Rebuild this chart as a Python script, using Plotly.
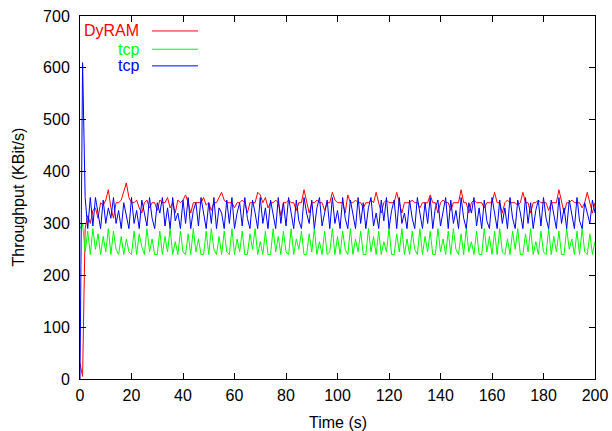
import plotly.graph_objects as go

time_s = list(range(0, 201))

dyram = [
    30, 5, 290, 315, 300, 325, 330, 310, 340, 335, 345, 365, 330, 310, 340, 340, 345, 360, 378, 350,
    340, 340, 345, 330, 320, 340, 345, 330, 340, 340, 325, 345, 340, 340, 350, 330, 340, 320, 345, 340,
    345, 355, 340, 320, 340, 340, 340, 340, 350, 335, 340, 325, 340, 340, 350, 360, 345, 340, 340, 340,
    330, 340, 340, 345, 340, 320, 340, 340, 340, 360, 355, 340, 350, 330, 340, 340, 345, 340, 315, 340,
    340, 345, 340, 340, 325, 340, 340, 365, 340, 320, 340, 340, 345, 340, 340, 325, 340, 340, 360, 345,
    340, 340, 340, 320, 355, 340, 340, 345, 340, 340, 330, 340, 340, 345, 340, 360, 340, 320, 340, 345,
    340, 340, 340, 360, 340, 320, 340, 340, 340, 345, 340, 340, 330, 340, 340, 340, 355, 340, 340, 320,
    340, 345, 340, 340, 325, 340, 340, 340, 365, 340, 340, 320, 340, 345, 340, 340, 340, 330, 340, 340,
    340, 360, 340, 340, 320, 340, 345, 340, 340, 340, 335, 340, 360, 340, 340, 320, 340, 340, 345, 340,
    340, 340, 325, 340, 340, 340, 365, 340, 320, 340, 340, 345, 340, 340, 340, 330, 340, 360, 340, 320,
    340,
]

tcp_green = [
    290, 300, 245, 285, 240, 290, 250, 280, 240, 275, 245, 290, 240, 285, 250, 240, 275, 240, 270, 245,
    240, 285, 240, 280, 255, 240, 290, 245, 270, 240, 240, 285, 240, 275, 245, 290, 240, 265, 240, 285,
    245, 240, 280, 240, 290, 245, 270, 240, 240, 285, 240, 290, 250, 240, 275, 240, 285, 245, 240, 290,
    240, 270, 245, 285, 240, 240, 280, 250, 290, 240, 265, 240, 285, 240, 240, 290, 245, 275, 240, 285,
    245, 240, 290, 240, 270, 250, 285, 240, 240, 280, 245, 290, 240, 265, 240, 285, 240, 245, 290, 240,
    275, 240, 285, 250, 240, 290, 240, 270, 245, 285, 240, 240, 290, 245, 275, 240, 285, 240, 265, 245,
    290, 240, 240, 280, 245, 290, 240, 270, 240, 285, 250, 240, 290, 240, 275, 245, 285, 240, 240, 290,
    245, 270, 240, 285, 240, 290, 250, 240, 280, 240, 290, 245, 265, 240, 285, 240, 240, 290, 245, 275,
    240, 285, 240, 290, 245, 240, 270, 240, 285, 250, 290, 240, 240, 280, 245, 290, 240, 265, 240, 285,
    245, 240, 290, 240, 275, 245, 285, 240, 240, 290, 250, 270, 240, 285, 240, 290, 245, 240, 280, 240,
    265,
]

tcp_blue = [
    0, 610, 350, 290, 350, 295, 350, 320, 290, 345, 300, 330, 310, 350, 300, 325, 290, 340, 315, 290,
    350, 300, 325, 290, 345, 320, 295, 350, 310, 290, 340, 320, 350, 295, 330, 290, 350, 305, 320, 290,
    345, 300, 350, 290, 325, 340, 295, 350, 320, 290, 340, 300, 350, 290, 330, 320, 290, 345, 300, 350,
    290, 320, 340, 295, 350, 310, 290, 345, 320, 290, 350, 300, 330, 290, 345, 320, 290, 350, 300, 340,
    295, 350, 320, 290, 345, 305, 290, 350, 320, 300, 345, 290, 330, 350, 295, 320, 345, 290, 350, 300,
    325, 290, 350, 310, 290, 345, 320, 290, 350, 300, 340, 290, 330, 350, 295, 320, 290, 345, 305, 350,
    290, 325, 345, 290, 350, 300, 320, 290, 345, 310, 290, 350, 320, 290, 340, 300, 350, 290, 330, 345,
    295, 320, 350, 290, 345, 300, 325, 290, 350, 310, 290, 340, 320, 350, 295, 330, 290, 345, 305, 290,
    350, 320, 290, 345, 300, 330, 290, 350, 310, 290, 345, 320, 290, 350, 300, 340, 290, 325, 345, 295,
    350, 310, 290, 345, 320, 290, 350, 300, 330, 290, 345, 320, 290, 350, 305, 290, 340, 320, 300, 345,
    320,
]

series_names = ["DyRAM", "tcp", "tcp"]
series_colors = ["#ff0000", "#00ff00", "#0000ff"]
x_ticks = [0, 20, 40, 60, 80, 100, 120, 140, 160, 180, 200]
y_ticks = [0, 100, 200, 300, 400, 500, 600, 700]

FONT = "Liberation Sans, Arial, sans-serif"

fig = go.Figure()
for name, ys, col in zip(series_names, [dyram, tcp_green, tcp_blue], series_colors):
    fig.add_trace(go.Scatter(x=time_s, y=ys, mode="lines", name=name,
                             line=dict(color=col, width=1), showlegend=False))

axis_common = dict(
    showgrid=False, zeroline=False, showline=True, linecolor="black", linewidth=1,
    mirror="allticks", ticks="inside", ticklen=6, tickcolor="black", tickwidth=1,
    tickfont=dict(family=FONT, size=16, color="black"), automargin=False,
)
fig.update_xaxes(range=[0, 200], tickvals=x_ticks, ticklabelstandoff=2, **axis_common)
fig.update_yaxes(range=[0, 700], tickvals=y_ticks, ticklabelstandoff=6, **axis_common)

annotations = [
    dict(text="Throughput (KBit/s)", xref="paper", yref="paper", x=(18 - 80) / 515, y=0.5,
         textangle=-90, showarrow=False, xanchor="center", yanchor="middle",
         font=dict(family=FONT, size=16, color="black")),
    dict(text="Time (s)", xref="paper", yref="paper", x=0.5, y=0, yshift=-43,
         showarrow=False, xanchor="center", yanchor="middle",
         font=dict(family=FONT, size=16, color="black")),
]
shapes = []
legend_y_px = [30.7, 49, 65.7]
for name, col, ypx in zip(series_names, series_colors, legend_y_px):
    yp = (379.5 - ypx) / 363.8
    annotations.append(dict(text=name, xref="paper", yref="paper", x=(141 - 80) / 515, y=yp,
                            showarrow=False, xanchor="right", yanchor="middle",
                            font=dict(family=FONT, size=16, color=col)))
    shapes.append(dict(type="line", xref="paper", yref="paper", x0=(152 - 80) / 515,
                       x1=(198 - 80) / 515, y0=yp, y1=yp, line=dict(color=col, width=1)))

fig.update_layout(
    width=612, height=431,
    margin=dict(l=80, r=17, t=16, b=52, autoexpand=False),
    paper_bgcolor="white", plot_bgcolor="white",
    annotations=annotations, shapes=shapes,
    showlegend=False,
)

fig.write_html(
    "out.html",
    config={"displayModeBar": False, "responsive": False},
    post_script="document.body.style.margin='0';document.body.style.padding='0';"
                "document.documentElement.style.overflow='hidden';",
)
